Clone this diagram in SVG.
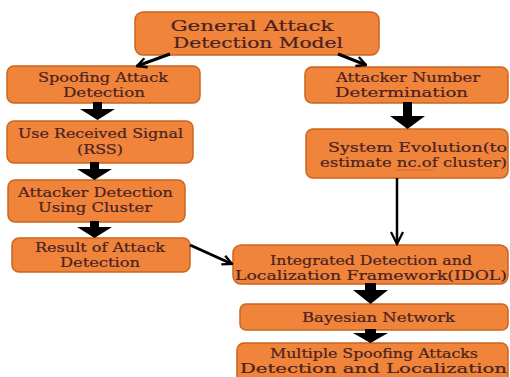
<svg xmlns="http://www.w3.org/2000/svg" width="510" height="377" viewBox="0 0 510 377">
<style>
.box{fill:#F0843A;stroke:#C9661F;stroke-width:1.5}
.t{font-family:"DejaVu Serif","Liberation Serif",serif;fill:#4A2222;stroke:#4A2222;stroke-width:0.2;text-anchor:middle;font-size:13px}
.big{font-size:15px}
.ln{stroke:#000;stroke-width:3;fill:none}
.blk{fill:#000}
</style>
<defs>
<marker id="ah" viewBox="0 0 10 10" refX="9" refY="5" markerWidth="4" markerHeight="4" orient="auto" markerUnits="strokeWidth">
<path d="M1,1 L9,5 L1,9" fill="none" stroke="#000" stroke-width="2"/>
</marker>
<marker id="ah2" viewBox="0 0 10 10" refX="9" refY="5" markerWidth="6" markerHeight="6" orient="auto" markerUnits="strokeWidth">
<path d="M1,1 L9,5 L1,9" fill="none" stroke="#000" stroke-width="1.5"/>
</marker>
</defs>
<rect width="510" height="377" fill="#fff"/>
<g id="n-general"><rect class="box" x="135" y="12" width="244" height="43" rx="8"/><text class="t big" x="252" y="31" textLength="163" lengthAdjust="spacingAndGlyphs">General Attack</text><text class="t big" x="258" y="48" textLength="170" lengthAdjust="spacingAndGlyphs">Detection Model</text></g>
<g id="n-spoof"><rect class="box" x="7" y="66" width="193" height="37" rx="7"/><text class="t" x="103" y="82" textLength="130" lengthAdjust="spacingAndGlyphs">Spoofing Attack</text><text class="t" x="104" y="97" textLength="82" lengthAdjust="spacingAndGlyphs">Detection</text></g>
<g id="n-rss"><rect class="box" x="7" y="121" width="186" height="42" rx="7"/><text class="t" x="100.5" y="138" textLength="165" lengthAdjust="spacingAndGlyphs">Use Received Signal</text><text class="t" x="100" y="154" textLength="46" lengthAdjust="spacingAndGlyphs">(RSS)</text></g>
<g id="n-cluster"><rect class="box" x="8" y="180" width="177" height="42" rx="7"/><text class="t" x="95.5" y="197" textLength="155" lengthAdjust="spacingAndGlyphs">Attacker Detection</text><text class="t" x="95" y="212" textLength="114" lengthAdjust="spacingAndGlyphs">Using Cluster</text></g>
<g id="n-result"><rect class="box" x="12" y="238" width="178" height="34" rx="7"/><text class="t" x="100" y="252" textLength="130" lengthAdjust="spacingAndGlyphs">Result of Attack</text><text class="t" x="100" y="267" textLength="80" lengthAdjust="spacingAndGlyphs">Detection</text></g>
<g id="n-number"><rect class="box" x="305" y="67" width="203" height="36" rx="7"/><text class="t" x="408" y="82" textLength="144" lengthAdjust="spacingAndGlyphs">Attacker Number</text><text class="t" x="401.5" y="97" textLength="133" lengthAdjust="spacingAndGlyphs">Determination</text></g>
<g id="n-evolution"><rect class="box" x="306" y="129" width="202" height="49" rx="7"/><text class="t" x="417.5" y="152" textLength="179" lengthAdjust="spacingAndGlyphs">System Evolution(to</text><text class="t" x="413.5" y="167" textLength="187" lengthAdjust="spacingAndGlyphs">estimate nc.of cluster)</text><line x1="395" y1="170" x2="434" y2="170" stroke="#c0392b" stroke-width="0.8" stroke-dasharray="1,1"/></g>
<g id="n-idol"><rect class="box" x="233" y="245" width="275" height="39" rx="8"/><text class="t" x="371" y="265" textLength="202" lengthAdjust="spacingAndGlyphs">Integrated Detection and</text><text class="t" x="371" y="280" textLength="272" lengthAdjust="spacingAndGlyphs">Localization Framework(IDOL)</text></g>
<g id="n-bayes"><rect class="box" x="240" y="304" width="268" height="26" rx="6"/><text class="t" x="378.5" y="322" textLength="153" lengthAdjust="spacingAndGlyphs">Bayesian Network</text></g>
<g id="n-multi"><rect class="box" x="237" y="343" width="271" height="40" rx="7"/><text class="t" x="374" y="358" textLength="208" lengthAdjust="spacingAndGlyphs">Multiple Spoofing Attacks</text><text class="t" x="373.5" y="373" textLength="267" lengthAdjust="spacingAndGlyphs">Detection and Localization</text></g>
<g id="connectors">
<line class="ln" x1="170" y1="54" x2="137" y2="66" marker-end="url(#ah)"/>
<line class="ln" x1="338" y1="54" x2="366" y2="65" marker-end="url(#ah)"/>
<line class="ln" x1="190" y1="245" x2="232" y2="264" marker-end="url(#ah)"/>
<line x1="397" y1="178" x2="397" y2="244" stroke="#000" stroke-width="2.5" marker-end="url(#ah2)"/>
<path class="blk" d="M93,102 H102 V109 H115 L97.5,120 L80,109 H93 Z"/>
<path class="blk" d="M90,162 H99 V169 H112 L94.5,180 L77,169 H90 Z"/>
<path class="blk" d="M90,221 H99 V227 H112 L94.5,238 L77,227 H90 Z"/>
<path class="blk" d="M403,102 H412 V116 H425 L407.5,129 L390,116 H403 Z"/>
<path class="blk" d="M365,283 H376 V290 H388 L370.5,304 L353,290 H365 Z"/>
<path class="blk" d="M365,329 H376 V333 H388 L370.5,343 L353,333 H365 Z"/>
</g>
</svg>
